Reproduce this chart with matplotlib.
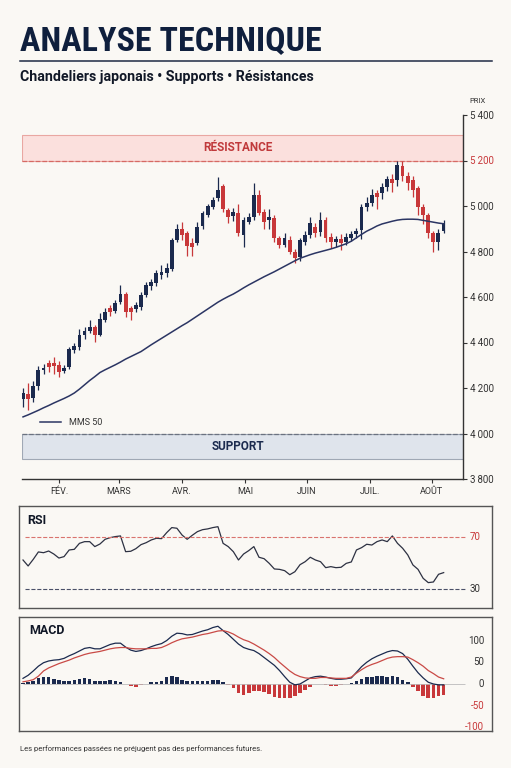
import matplotlib
matplotlib.use("Agg")
import matplotlib.pyplot as plt
from matplotlib.lines import Line2D

# --- donnees ---
opens = [4150, 4175, 4155, 4210, 4278, 4308, 4310, 4300, 4275, 4292,
         4368, 4380, 4435, 4450, 4468, 4435, 4500, 4552, 4540, 4578,
         4615, 4550, 4547, 4556, 4609, 4648, 4662, 4697, 4706, 4723,
         4851, 4899, 4881, 4837, 4837, 4912, 4960, 4996, 5035, 5090,
         4982, 4955, 4969, 4873, 4930, 4952, 5048, 4974, 4938, 4947,
         4859, 4829, 4851, 4798, 4776, 4842, 4873, 4908, 4886, 4938,
         4862, 4843, 4855, 4843, 4860, 4875, 4895, 4996, 5013, 5057,
         5057, 5083, 5119, 5114, 5176, 5132, 5114, 5079, 4996, 4960,
         4881, 4842, 4890]
closes = [4178, 4150, 4210, 4280, 4290, 4293, 4295, 4272, 4290, 4370,
          4385, 4435, 4450, 4468, 4433, 4505, 4535, 4535, 4573, 4615,
          4535, 4535, 4565, 4609, 4653, 4666, 4706, 4710, 4727, 4851,
          4899, 4873, 4824, 4820, 4908, 4969, 5000, 5026, 5070, 4987,
          4952, 4973, 4881, 4938, 4952, 5048, 4969, 4930, 4952, 4859,
          4829, 4859, 4798, 4771, 4851, 4873, 4925, 4881, 4938, 4859,
          4840, 4856, 4838, 4862, 4875, 4890, 4996, 5013, 5048, 5040,
          5083, 5119, 5101, 5180, 5132, 5101, 5070, 4996, 4960, 4881,
          4842, 4881, 4925]
highs = [4200, 4222, 4230, 4295, 4305, 4325, 4335, 4320, 4300, 4380,
         4400, 4460, 4470, 4500, 4475, 4530, 4550, 4565, 4585, 4653,
         4620, 4560, 4580, 4620, 4665, 4680, 4720, 4740, 4750, 4860,
         4920, 4930, 4890, 4860, 4930, 4980, 5010, 5040, 5127, 5095,
         4990, 4990, 5010, 4950, 4970, 5101, 5070, 4985, 4985, 4960,
         4870, 4880, 4870, 4810, 4860, 4890, 4950, 4925, 4975, 4950,
         4880, 4870, 4875, 4880, 4890, 4905, 5010, 5040, 5075, 5070,
         5100, 5130, 5140, 5198, 5200, 5150, 5130, 5090, 5010, 4970,
         4890, 4900, 4940]
lows = [4116, 4103, 4140, 4190, 4262, 4270, 4262, 4250, 4265, 4285,
        4355, 4365, 4415, 4440, 4402, 4430, 4490, 4515, 4530, 4570,
        4512, 4499, 4535, 4545, 4600, 4630, 4650, 4680, 4690, 4715,
        4840, 4850, 4780, 4780, 4830, 4900, 4950, 4985, 5020, 4975,
        4925, 4935, 4870, 4820, 4920, 4940, 4960, 4900, 4900, 4840,
        4815, 4820, 4790, 4749, 4760, 4830, 4860, 4865, 4870, 4840,
        4815, 4820, 4805, 4830, 4845, 4860, 4855, 4980, 5000, 4985,
        5030, 5065, 5060, 5090, 5110, 5070, 5040, 4960, 4920, 4860,
        4800, 4805, 4880]
mms50 = [4073, 4082, 4092, 4102, 4113, 4123, 4134, 4144, 4154, 4165,
         4178, 4195, 4214, 4233, 4250, 4268, 4280, 4291, 4302, 4314,
         4327, 4338, 4349, 4360, 4375, 4390, 4404, 4418, 4432, 4446,
         4460, 4474, 4487, 4502, 4517, 4532, 4547, 4562, 4577, 4590,
         4602, 4613, 4626, 4640, 4653, 4665, 4677, 4689, 4700, 4711,
         4723, 4735, 4747, 4759, 4770, 4778, 4786, 4793, 4799, 4805,
         4811, 4818, 4826, 4834, 4845, 4860, 4875, 4889, 4900, 4912,
         4921, 4927, 4933, 4938, 4941, 4942, 4942, 4941, 4937, 4933,
         4929, 4925, 4922]
rsi = [52.3, 47.7, 52.8, 58.5, 57.9, 59.2, 56.9, 53.8, 54.9, 60.0,
       60.5, 65.1, 66.4, 66.4, 62.6, 64.6, 68.2, 69.5, 70.3, 70.8,
       58.7, 59.0, 61.0, 64.1, 65.6, 67.7, 69.0, 68.7, 73.3, 77.2,
       76.7, 71.5, 68.2, 71.3, 74.1, 75.6, 76.2, 77.2, 77.9, 65.1,
       62.6, 58.7, 52.3, 56.9, 59.5, 62.6, 54.4, 53.3, 49.7, 45.4,
       45.1, 44.1, 41.0, 43.3, 48.7, 51.0, 54.4, 52.3, 51.0, 46.4,
       47.2, 46.4, 46.7, 49.7, 50.8, 60.0, 61.8, 64.4, 63.8, 66.4,
       67.7, 66.4, 70.8, 65.1, 61.3, 56.2, 48.5, 45.1, 38.2, 34.9,
       35.4, 41.3, 42.6]
macd = [13, 20, 30, 41, 49, 53, 55, 56, 59, 65,
        70, 76, 82, 84, 81, 81, 86, 91, 94, 94,
        85, 78, 75, 77, 81, 86, 90, 93, 100, 110,
        117, 116, 113, 114, 118, 122, 125, 130, 133, 123,
        114, 103, 92, 84, 80, 77, 70, 61, 52, 43,
        31, 17, 4, -2, 0, 7, 14, 17, 18, 16,
        13, 11, 11, 12, 14, 27, 40, 50, 58, 64,
        69, 74, 77, 76, 70, 57, 41, 26, 14, 4,
        0, -2, -2]
signal = [5, 7, 10, 18, 30, 37, 42, 47, 51, 55,
          60, 64, 68, 71, 73, 75, 78, 81, 83, 84,
          84, 82, 81, 81, 81, 82, 82, 84, 89, 95,
          100, 104, 106, 108, 111, 114, 116, 119, 122, 123,
          120, 115, 108, 102, 98, 92, 85, 78, 70, 61,
          50, 40, 30, 22, 17, 14, 13, 13, 15, 15,
          14, 13, 13, 13, 16, 25, 33, 40, 45, 49,
          54, 59, 62, 63, 63, 62, 56, 49, 41, 31,
          24, 16, 12]
histo = [3, 5, 8, 13, 15, 15, 12, 9, 8, 8,
         10, 12, 13, 12, 8, 7, 8, 9, 8, 5,
         1, -5, -6, -3, 1, 4, 5, 7, 15, 19,
         17, 10, 6, 6, 8, 8, 8, 9, 9, 4,
         -3, -10, -20, -25, -21, -15, -15, -19, -24, -30,
         -33, -33, -32, -28, -21, -14, -7, 1, 0, -2,
         -4, -4, -2, 0, 2, 7, 12, 15, 16, 18,
         18, 17, 18, 15, 10, 4, -7, -16, -27, -32,
         -32, -27, -25]
months = ["FÉV.", "MARS", "AVR.", "MAI", "JUIN", "JUIL.", "AOÛT"]
month_pos = [7.0, 18.7, 31.0, 43.3, 55.4, 67.6, 79.7]
price_ticks = [3800, 4000, 4200, 4400, 4600, 4800, 5000, 5200, 5400]
resistance = (5200, 5310)
support = (3888, 4000)

BG = "#faf8f4"
NAVY = "#1b2a4e"
RED = "#c8383a"
W, H = 511, 768

plt.rcParams["font.family"] = ["Roboto", "DejaVu Sans"]


def px_rect(x0, y0, x1, y1):
    # rectangle en pixels (origine en haut) -> fraction de figure
    return [x0 / W, 1 - y1 / H, (x1 - x0) / W, (y1 - y0) / H]


def fit_width(txt, target_px):
    # ajuste la taille de police pour tenir dans la largeur voulue
    r = fig.canvas.get_renderer()
    w = txt.get_window_extent(renderer=r).width
    txt.set_fontsize(txt.get_fontsize() * target_px / w)


fig = plt.figure(figsize=(W / 100, H / 100), dpi=100, facecolor=BG)

# titre
title = fig.text(20 / W, 1 - 50 / H, "ANALYSE TECHNIQUE", fontsize=24, weight="bold",
                 color="#0f1f3d", va="baseline", fontstretch="condensed",
                 family=["Roboto Condensed", "Open Sans Condensed", "DejaVu Sans Condensed",
                         "Liberation Sans Narrow", "DejaVu Sans"])
fit_width(title, 302)
fig.add_artist(Line2D([20 / W, 492 / W], [1 - 61 / H, 1 - 61 / H], color="#1f2a44", lw=1.1))
sub = fig.text(20 / W, 1 - 77 / H, "Chandeliers japonais • Supports • Résistances",
               fontsize=10, weight="bold", color="#111827", va="center")
fit_width(sub, 292)
fig.text(478 / W, 1 - 101 / H, "PRIX", fontsize=5.5, color="#333333", ha="center", va="center")

# --- graphique des prix ---
ax = fig.add_axes(px_rect(22, 115, 463, 479))
ax.set_facecolor("none")
x = list(range(len(closes)))
ax.set_xlim(-0.2, 85.8)
ax.set_ylim(3800, 5400)

ax.axhspan(*resistance, facecolor="#fbe0dd", edgecolor="#e9a7a2", lw=0.8, zorder=0)
ax.axhline(resistance[0], ls="--", color="#d66a64", lw=0.9, zorder=1)
ax.text(0.49, sum(resistance) / 2, "RÉSISTANCE", transform=ax.get_yaxis_transform(),
        ha="center", va="center", color="#c0393b", weight="bold", fontsize=8.5)
ax.axhspan(*support, facecolor="#dfe4ec", edgecolor="#a0a8b5", lw=0.8, zorder=0)
ax.axhline(support[1], ls="--", color="#6b7280", lw=0.9, zorder=1)
ax.text(0.49, sum(support) / 2, "SUPPORT", transform=ax.get_yaxis_transform(),
        ha="center", va="center", color=NAVY, weight="bold", fontsize=8.5)

colors = [NAVY if c >= o else RED for o, c in zip(opens, closes)]
ax.vlines(x, lows, highs, colors=colors, lw=0.9, zorder=2)
bottoms = [min(o, c) for o, c in zip(opens, closes)]
heights = [max(abs(c - o), 6) for o, c in zip(opens, closes)]
ax.bar(x, heights, bottom=bottoms, width=0.75, color=colors, zorder=3)
ax.plot(x, mms50, color="#2b3563", lw=1.1, zorder=4, label="MMS 50")
ax.legend(loc="center left", bbox_to_anchor=(0.022, 0.154), frameon=False,
          fontsize=6.5, handlelength=2.4, labelcolor="#333333")

for s in ["left", "top"]:
    ax.spines[s].set_visible(False)
for s in ["right", "bottom"]:
    ax.spines[s].set_color("#333333")
    ax.spines[s].set_linewidth(1)
ax.yaxis.tick_right()
ax.set_yticks(price_ticks)
ax.set_yticklabels([f"{v // 1000}\u2009{v % 1000:03d}" for v in price_ticks])
for lab, v in zip(ax.get_yticklabels(), price_ticks):
    lab.set_color(RED if v == resistance[0] else "#333333")
ax.tick_params(axis="y", length=3, width=0.8, pad=2, labelsize=7, color="#333333")
ax.set_xticks(month_pos)
ax.set_xticklabels(months)
ax.tick_params(axis="x", length=3, width=0.8, pad=3, labelsize=6.5, color="#333333",
               labelcolor="#333333")

# --- RSI ---
ax2 = fig.add_axes(px_rect(19, 506, 492, 608))
ax2.set_facecolor(BG)
ax2.set_xlim(-0.78, 91.42)
ax2.set_ylim(15.4, 93.8)
ax2.set_xticks([])
ax2.set_yticks([])
for s in ax2.spines.values():
    s.set_color("#555555")
    s.set_linewidth(1)
ax2.plot(x, rsi, color="#2d3142", lw=0.9)
ax2.hlines(70, 0.4, 86.2, ls="--", color="#d9736e", lw=0.8)
ax2.hlines(30, 0.4, 86.2, ls="--", color="#4a5068", lw=0.8)
ax2.text(87.1, 70, "70", color=RED, va="center", fontsize=7)
ax2.text(87.1, 30, "30", color="#333333", va="center", fontsize=7)
ax2.text(0.017, 0.853, "RSI", transform=ax2.transAxes, weight="bold", fontsize=9,
         va="center", color="#111827")

# --- MACD ---
ax3 = fig.add_axes(px_rect(19, 616.7, 492, 730.7))
ax3.set_facecolor(BG)
ax3.set_xlim(-0.78, 91.42)
ax3.set_ylim(-107.6, 155)
ax3.set_xticks([])
ax3.set_yticks([])
for s in ax3.spines.values():
    s.set_color("#555555")
    s.set_linewidth(1)
ax3.hlines(0, 0, 86.2, color="#bbbbbb", lw=0.6)
ax3.bar(x, histo, width=0.7, color=[NAVY if h >= 0 else RED for h in histo])
ax3.plot(x, macd, color=NAVY, lw=0.9)
ax3.plot(x, signal, color="#c94a46", lw=0.9)
for v in [100, 50, 0, -50, -100]:
    ax3.text(89.9, v, str(v), ha="right", va="center", fontsize=7,
             color=RED if v < 0 else "#333333")
ax3.text(0.021, 0.883, "MACD", transform=ax3.transAxes, weight="bold", fontsize=9,
         va="center", color="#111827")

fig.text(20 / W, 1 - 749 / H, "Les performances passées ne préjugent pas des performances futures.",
         fontsize=5.5, color="#333333", va="center")

fig.savefig("out.png", dpi=100, facecolor=BG)
